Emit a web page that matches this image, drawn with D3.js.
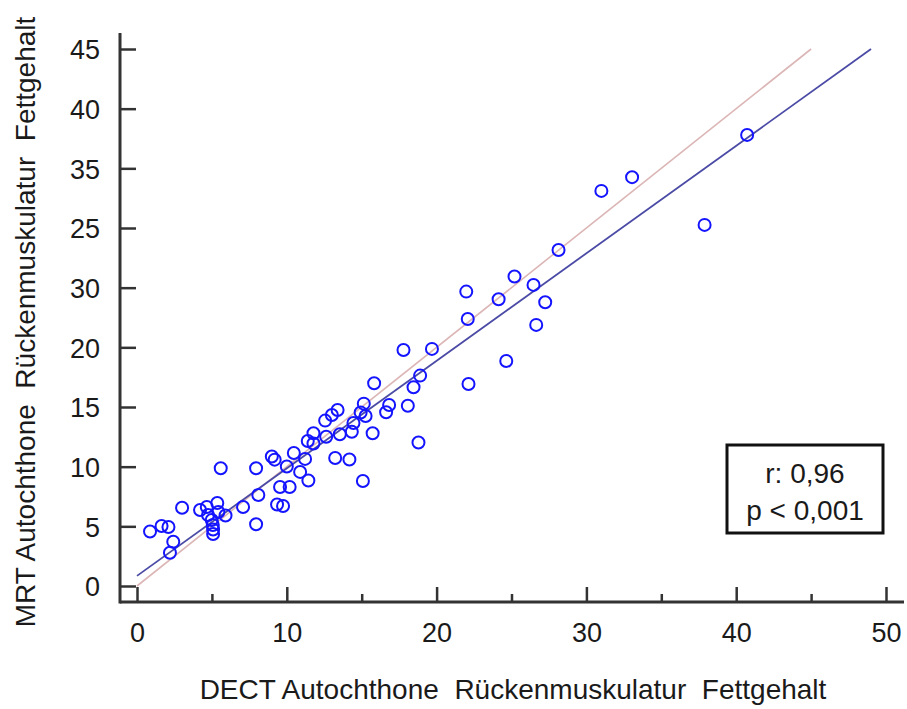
<!DOCTYPE html>
<html>
<head>
<meta charset="utf-8">
<script src="https://cdn.jsdelivr.net/npm/d3@7"></script>
<style>
  body { margin: 0; background: #fff; }
  svg { display: block; font-family: "Liberation Sans", Arial, sans-serif; }
</style>
</head>
<body>
<svg id="chart" width="907" height="709"></svg>
<script>
// DECT (x) vs MRT (y) fat content
const dectValues = [
  0.87, 1.64, 2.10, 2.42, 2.20, 3.01, 4.21, 4.66, 5.36, 5.43,
  4.99, 5.06, 5.08, 5.08, 4.74, 5.91, 5.59, 7.08, 7.95, 7.95,
  8.10, 9.00, 9.19, 9.55, 10.19, 9.35, 9.75, 10.00, 10.47, 10.89,
  11.22, 11.44, 11.40, 11.78, 11.78, 12.63, 12.56, 13.01, 13.39, 13.54,
  14.34, 14.45, 15.14, 14.93, 15.26, 15.73, 13.23, 14.18, 15.08, 15.83,
  16.83, 16.63, 18.08, 17.79, 19.69, 18.90, 18.46, 18.79, 21.98, 22.08,
  22.13, 24.14, 25.20, 26.47, 27.25, 26.65, 28.14, 31.00, 33.05, 37.89,
  40.73, 24.65
];
const mrtValues = [
  4.57, 5.03, 4.95, 3.71, 2.79, 6.56, 6.37, 6.62, 6.96, 6.20,
  5.53, 5.11, 4.74, 4.36, 5.95, 5.91, 9.87, 6.62, 9.87, 5.17,
  7.63, 10.85, 10.59, 8.30, 8.30, 6.83, 6.71, 10.02, 11.15, 9.56,
  10.65, 8.84, 12.15, 12.80, 11.94, 12.51, 13.86, 14.33, 14.75, 12.72,
  12.93, 13.66, 15.28, 14.54, 14.25, 12.80, 10.73, 10.60, 8.80, 16.99,
  15.17, 14.56, 15.11, 19.78, 19.87, 17.63, 16.66, 12.03, 24.67, 22.38,
  16.93, 24.03, 25.93, 25.23, 23.78, 21.88, 28.16, 33.11, 34.26, 30.26,
  37.80, 18.86
];

// fitted line and line of identity
const regressionX = [0, 49];
const regressionY = [0.85, 45];
const identityX = [0, 45];
const identityY = [0, 45];

const xTicks = [0, 10, 20, 30, 40, 50];
const xMinorTicks = [5, 15, 25, 35, 45];
const yTicks = [0, 5, 10, 15, 20, 25, 30, 35, 40, 45];
const yTickLabels = ["0", "5", "10", "15", "20", "30", "25", "35", "40", "45"];

const statLines = ["r: 0,96", "p < 0,001"];
const xTitle = "DECT Autochthone \u00a0R\u00fcckenmuskulatur \u00a0Fettgehalt";
const yTitle = "MRT Autochthone \u00a0R\u00fcckenmuskulatur \u00a0Fettgehalt";

const axisColor = "#333";
const textColor = "#1a1a1a";
const tickFontSize = 27;
const titleFontSize = 28;

const svg = d3.select("#chart");

const x = d3.scaleLinear().domain([0, 50]).range([137, 886]);
const y = d3.scaleLinear().domain([0, 45]).range([586, 49]);

const xAxisY = 602;
const yAxisX = 120;

// axes
const xAxis = svg.append("g")
    .attr("transform", `translate(0,${xAxisY})`)
    .call(d3.axisBottom(x).tickValues(xTicks).tickSize(-15).tickSizeOuter(0).tickPadding(21));

const xMinor = svg.append("g")
    .attr("transform", `translate(0,${xAxisY})`)
    .call(d3.axisBottom(x).tickValues(xMinorTicks).tickSize(-8).tickSizeOuter(0).tickFormat(""));

const yAxis = svg.append("g")
    .attr("transform", `translate(${yAxisX},0)`)
    .call(d3.axisLeft(y).tickValues(yTicks).tickSize(-16).tickSizeOuter(0).tickPadding(20)
        .tickFormat((d, i) => yTickLabels[i]));

[xAxis, xMinor, yAxis].forEach(g =>
{
    g.select(".domain").remove();
    g.selectAll(".tick line").attr("stroke", axisColor).attr("stroke-width", 2.5);
    g.selectAll(".tick text")
        .attr("fill", textColor)
        .attr("font-size", tickFontSize)
        .attr("font-family", "Liberation Sans, Arial, sans-serif");
});
yAxis.selectAll(".tick text").attr("dy", "0.36em");

svg.append("line")
    .attr("x1", yAxisX).attr("x2", 904)
    .attr("y1", xAxisY).attr("y2", xAxisY)
    .attr("stroke", axisColor).attr("stroke-width", 3);

svg.append("line")
    .attr("x1", yAxisX).attr("x2", yAxisX)
    .attr("y1", 33).attr("y2", xAxisY + 1.5)
    .attr("stroke", axisColor).attr("stroke-width", 3);

// lines
const line = d3.line().x(d => x(d[0])).y(d => y(d[1]));

svg.append("path")
    .datum(d3.zip(identityX, identityY))
    .attr("d", line)
    .attr("fill", "none")
    .attr("stroke", "#dcb6b6")
    .attr("stroke-width", 1.6);

svg.append("path")
    .datum(d3.zip(regressionX, regressionY))
    .attr("d", line)
    .attr("fill", "none")
    .attr("stroke", "#4b4ba6")
    .attr("stroke-width", 1.8);

// points
svg.append("g")
    .selectAll("circle")
    .data(d3.zip(dectValues, mrtValues))
    .join("circle")
    .attr("cx", d => x(d[0]))
    .attr("cy", d => y(d[1]))
    .attr("r", 6)
    .attr("fill", "none")
    .attr("stroke", "#1414ff")
    .attr("stroke-width", 2);

// titles
svg.append("text")
    .text(xTitle)
    .attr("x", 513)
    .attr("y", 699)
    .attr("text-anchor", "middle")
    .attr("font-size", titleFontSize)
    .attr("fill", textColor);

svg.append("text")
    .text(yTitle)
    .attr("transform", "translate(35,322) rotate(-90)")
    .attr("text-anchor", "middle")
    .attr("font-size", titleFontSize)
    .attr("fill", textColor);

// stats box
const statBox = svg.append("g");
statBox.append("rect")
    .attr("x", 727).attr("y", 445)
    .attr("width", 156).attr("height", 88)
    .attr("fill", "#fff")
    .attr("stroke", "#111")
    .attr("stroke-width", 3);

statBox.selectAll("text")
    .data(statLines)
    .join("text")
    .text(d => d)
    .attr("x", 805)
    .attr("y", (d, i) => 483 + i * 37)
    .attr("text-anchor", "middle")
    .attr("font-size", titleFontSize)
    .attr("fill", textColor);
</script>
</body>
</html>
